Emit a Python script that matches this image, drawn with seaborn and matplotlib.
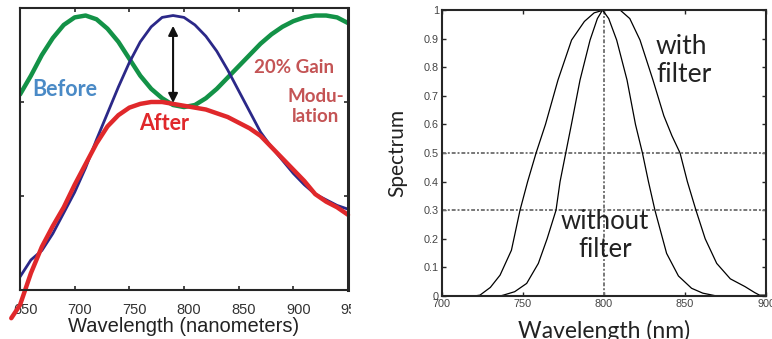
import numpy as np
import pandas as pd
import matplotlib
matplotlib.use("Agg")
import matplotlib.pyplot as plt
import matplotlib.transforms as mtransforms
from matplotlib.patches import Rectangle
import seaborn as sns

# left panel: gain spectra
wl_left = [650, 660, 670, 680, 690, 700, 710, 720, 730, 740, 750, 760, 770, 780, 790,
           800, 810, 820, 830, 840, 850, 860, 870, 880, 890, 900, 910, 920, 930, 940, 950]
before = [0.07, 0.16, 0.21, 0.30, 0.41, 0.52, 0.65, 0.80, 0.94, 1.08, 1.21, 1.32, 1.40, 1.45, 1.46,
          1.45, 1.41, 1.35, 1.27, 1.17, 1.06, 0.95, 0.84, 0.76, 0.69, 0.62, 0.56, 0.51, 0.48, 0.45, 0.43]
modulation = [1.04, 1.14, 1.25, 1.34, 1.41, 1.45, 1.46, 1.44, 1.39, 1.32, 1.23, 1.14, 1.07, 1.02, 0.984,
              0.973, 0.984, 1.02, 1.07, 1.13, 1.19, 1.25, 1.31, 1.36, 1.40, 1.43, 1.45, 1.46, 1.46, 1.45, 1.42]
wl_after = [642] + wl_left
after = [-0.15, -0.08, 0.09, 0.23, 0.34, 0.44, 0.56, 0.67, 0.78, 0.87, 0.93, 0.97, 0.99, 1.00, 1.00, 0.99,
         0.98, 0.97, 0.96, 0.94, 0.92, 0.89, 0.86, 0.82, 0.76, 0.70, 0.64, 0.58, 0.51, 0.47, 0.44, 0.40]

# right panel: normalised spectra
wl_without = [700, 720, 736, 738, 745, 752.4, 759.6, 765, 770.5, 773, 776.5, 780, 785.3, 791.5, 796,
              799.2, 803, 807.9, 814.3, 819.5, 823.8, 827.5, 831.5, 838.7, 846, 854.1, 861, 869.6, 900]
without_filter = [0, 0, 0, 0.003, 0.015, 0.044, 0.114, 0.2, 0.3, 0.4, 0.5, 0.6, 0.755, 0.895, 0.97,
                  1.0, 0.97, 0.895, 0.755, 0.6, 0.5, 0.4, 0.3, 0.149, 0.07, 0.027, 0.01, 0.0, 0.0]
wl_with = [700, 720, 723.6, 730, 736, 743, 748.3, 753, 758.2, 764, 771.7, 780.1, 788, 794, 800,
           810, 816, 822.3, 830.3, 837, 842, 847, 851.5, 856.8, 862.5, 869.6, 878, 887, 893, 896, 900]
with_filter = [0, 0, 0.003, 0.03, 0.073, 0.16, 0.3, 0.4, 0.5, 0.6, 0.755, 0.895, 0.96, 0.99, 1.0,
               1.0, 0.97, 0.895, 0.755, 0.63, 0.56, 0.5, 0.4, 0.3, 0.2, 0.114, 0.06, 0.033, 0.012, 0.003, 0.003]

left_xticks = [650, 700, 750, 800, 850, 900, 950]
right_xticks = [700, 750, 800, 850, 900]
right_yticks = [0, 0.1, 0.2, 0.3, 0.4, 0.5, 0.6, 0.7, 0.8, 0.9, 1]
right_ylabels = ["0", "0.1", "0.2", "0.3", "0.4", "0.5", "0.6", "0.7", "0.8", "0.9", "1"]

sns.set_style("ticks")
plt.rcParams["font.family"] = ["Liberation Sans", "DejaVu Sans"]

fig = plt.figure(figsize=(7.72, 3.39), dpi=100)
W, H = 772, 339
ax1 = fig.add_axes([20 / W, 49 / H, 328 / W, 282 / H])
ax2 = fig.add_axes([441.7 / W, 43 / H, 324.3 / W, 286 / H])

# ---- left panel ----
sns.lineplot(x=wl_left, y=modulation, ax=ax1, color="#139247", lw=3.2)
sns.lineplot(x=wl_left, y=before, ax=ax1, color="#2b2888", lw=2.0)
sns.lineplot(x=wl_after, y=after, ax=ax1, color="#e0282b", lw=3.2)
ax1.lines[-1].set_clip_on(False)

ax1.set_xlim(650, 950)
ax1.set_ylim(0, 1.5)
ax1.set_xticks(left_xticks)
ax1.set_yticks([0, 0.5, 1, 1.5])
ax1.set_yticklabels([])
ax1.tick_params(direction="in", length=3, width=1.2, top=True, right=True,
                labelsize=10.5, labelcolor="#333333", pad=9)
offset = mtransforms.ScaledTranslation(5 / 100, 0, fig.dpi_scale_trans)
for lbl in ax1.get_xticklabels():
    lbl.set_transform(lbl.get_transform() + offset)
for side in ["left", "bottom", "top"]:
    ax1.spines[side].set_linewidth(1.5)
ax1.spines["right"].set_linewidth(2.2)
ax1.set_xlabel("Wavelength (nanometers)", fontsize=14.5, color="#222222", labelpad=0)
ax1.set_ylabel("")

ax1.annotate("", xy=(790, 1.42), xytext=(790, 0.98),
             arrowprops=dict(arrowstyle="<|-|>", color="#111111", lw=1.5, mutation_scale=14))
bold = ["Lato", "DejaVu Sans"]
ax1.text(690.8, 1.064, "Before", color="#4a8ac6", fontsize=15.5, fontweight="bold",
         family=bold, ha="center", va="center")
ax1.text(781.7, 0.888, "After", color="#e0282b", fontsize=15.5, fontweight="bold",
         family=bold, ha="center", va="center")
ax1.text(900.9, 1.181, "20% Gain", color="#c45455", fontsize=13.5, fontweight="bold",
         family=bold, ha="center", va="center")
ax1.text(920.2, 0.976, "Modu-\nlation", color="#c45455", fontsize=13.5, fontweight="bold",
         family=bold, ha="center", va="center", linespacing=1.25)

# cover the part of the left picture that was cropped away
fig.add_artist(Rectangle((351 / W, 0), 30 / W, 52 / H, transform=fig.transFigure,
                         facecolor="white", edgecolor="none", zorder=10))

# ---- right panel ----
sns.lineplot(x=wl_without, y=without_filter, ax=ax2, color="black", lw=0.9)
sns.lineplot(x=wl_with, y=with_filter, ax=ax2, color="black", lw=0.9)
grid_style = dict(color="#777777", lw=1.4, linestyle=(0, (2, 1, 1, 1)), zorder=1)
ax2.axhline(0.5, **grid_style)
ax2.axhline(0.3, **grid_style)
ax2.axvline(800, **grid_style)

ax2.set_xlim(700, 900)
ax2.set_ylim(0, 1)
ax2.set_xticks(right_xticks)
ax2.set_yticks(right_yticks)
ax2.set_yticklabels(right_ylabels)
ax2.tick_params(direction="in", length=3, width=1, top=True, right=True,
                labelsize=7.8, labelcolor="#444444", pad=2)
for side in ["left", "bottom", "top", "right"]:
    ax2.spines[side].set_linewidth(1.5)

calibri = ["Lato", "DejaVu Sans"]
ax2.set_ylabel("Spectrum", fontsize=15, family=calibri, color="#222222", labelpad=12)
ax2.set_xlabel("Wavelength (nm)", fontsize=16.5, family=calibri, color="#222222", labelpad=8)
ax2.text(832.2, 0.825, "with\nfilter", fontsize=19, family=calibri, color="#222222",
         ha="left", va="center", linespacing=1.15)
ax2.text(800.7, 0.213, "without\nfilter", fontsize=18.5, family=calibri, color="#222222",
         ha="center", va="center", linespacing=1.15)

fig.savefig("out.png", dpi=100)
